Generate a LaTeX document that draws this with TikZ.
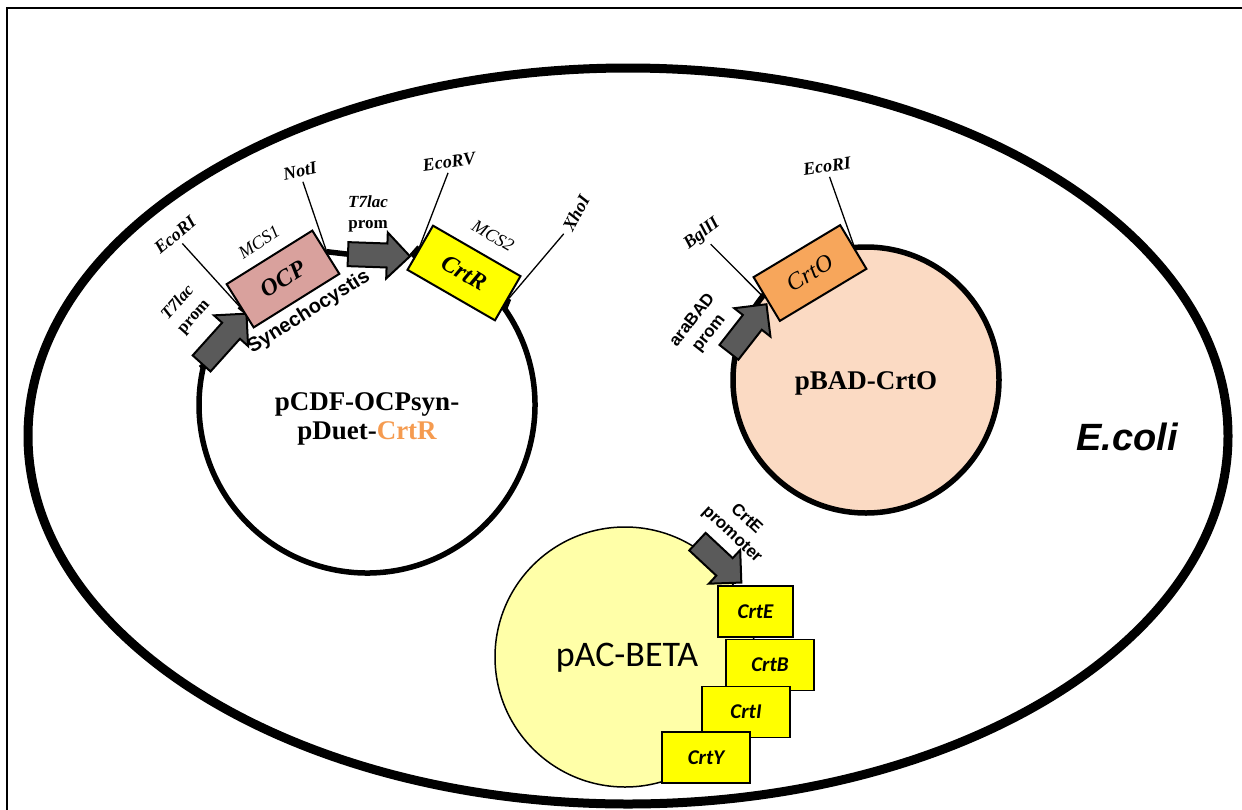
\documentclass[tikz,border=0pt]{standalone}
\usepackage{fontspec}
\setmainfont{Liberation Serif}
\newfontfamily\arialfont{Liberation Sans}
\newfontfamily\calibrifont{Carlito}
\usetikzlibrary{shapes.arrows,backgrounds}
\definecolor{ocppink}{HTML}{D9A19D}
\definecolor{geneyellow}{HTML}{FFFF00}
\definecolor{crtoorange}{HTML}{F7A65B}
\definecolor{badpeach}{HTML}{FBDAC3}
\definecolor{acyellow}{HTML}{FFFFA8}
\definecolor{crtrtext}{HTML}{F59B50}
\definecolor{promgray}{HTML}{5A5A5A}
\tikzset{
  cellwall/.style={line width=9pt},
  plasmid/.style={line width=5.5pt},
  site/.style={line width=1.3pt, shorten <=5pt},
  sitelbl/.style={inner sep=0pt, font=\fontsize{18}{20}\selectfont\bfseries\itshape},
  mcslbl/.style={inner sep=0pt, font=\fontsize{18}{20}\selectfont\itshape},
  prom/.style={single arrow, draw=black, line width=2pt, fill=promgray, inner xsep=0pt, inner ysep=11pt, single arrow head extend=11pt},
  promlbl/.style={align=center, inner sep=0pt, font=\fontsize{17}{21}\selectfont\bfseries},
  sanslbl/.style={align=center, inner sep=0pt, font=\arialfont\fontsize{17}{21}\selectfont\bfseries},
  insert/.style={draw=black, line width=2pt, minimum width=101pt, minimum height=51pt, inner sep=0pt},
  genebox/.style={draw=black, line width=1.5pt, fill=geneyellow, minimum height=51pt, inner sep=0pt, font=\calibrifont\fontsize{21}{21}\selectfont\bfseries\itshape},
  plname/.style={align=center, inner sep=0pt, font=\fontsize{27}{29}\selectfont\bfseries},
}
\begin{document}
\begin{tikzpicture}[x=1pt, y=-1pt]
  \useasboundingbox (0,0) rectangle (1242,809);
  \draw[line width=2pt] (7,815) -- (7,8) -- (1250,8);
  \draw[cellwall] (628,436) ellipse [x radius=600, y radius=368];
  \node[inner sep=0pt, font=\arialfont\fontsize{38}{38}\selectfont\bfseries\itshape] (ecoli) at (1127,437) {E.coli};

  \coordinate (pcdf) at (367,405);
  \node[prom, rotate=48, minimum height=67pt] (t7a) at (220,343) {};
  \node[prom, rotate=-2, minimum height=62pt] (t7b) at (373,255) {};
  \node[insert, fill=ocppink, rotate=32, font=\fontsize{24}{24}\selectfont\bfseries\itshape] (ocp) at (283,279) {OCP};
  \node[insert, fill=geneyellow, rotate=-30, font=\fontsize{24}{24}\selectfont\bfseries\itshape] (crtr) at (464,273) {CrtR};
  \node[plname] (pcdflbl) at (367,419) {pCDF-OCPsyn-\\pDuet-\textcolor{crtrtext}{CrtR}};
  \node[promlbl, rotate=48] (t7albl) at (186,310) {\textit{T7lac}\\prom};
  \node[promlbl] (t7blbl) at (368,214) {\textit{T7lac}\\prom};
  \node[inner sep=0pt, rotate=32, font=\arialfont\fontsize{20}{20}\selectfont\bfseries] (syn) at (309,312) {Synechocystis};
  \node[mcslbl, rotate=33] (mcs1) at (259,242) {MCS1};
  \node[mcslbl, rotate=-30] (mcs2) at (493,236) {MCS2};

  \draw[plasmid, fill=badpeach] (866,380) circle [radius=133];
  \node[prom, rotate=52, minimum height=61pt] (ara) at (744,333) {};
  \node[insert, fill=crtoorange, rotate=31, font=\fontsize{24}{24}\selectfont\itshape] (crto) at (810,273) {CrtO};
  \node[plname] (pbadlbl) at (866,383) {pBAD-CrtO};
  \node[sanslbl, rotate=52] (aralbl) at (701,327) {araBAD\\prom};

  \draw[line width=1.5pt, fill=acyellow] (625,657) circle [radius=130];
  \node[prom, rotate=-43, minimum height=60pt] (crtep) at (715,558) {};
  \node[sanslbl, rotate=-43] (crteplbl) at (739,527) {CrtE\\promoter};
  \node[inner sep=0pt, font=\calibrifont\fontsize{36}{36}\selectfont] (paclbl) at (627,658) {pAC-BETA};
  \foreach \nm/\x/\y/\w/\tx in {crte/755.5/611.5/75/CrtE, crtb/770/665/88/CrtB, crti/746/712/88/CrtI, crty/706/757.5/88/CrtY}
    \node[genebox, minimum width=\w pt] (\nm) at (\x,\y) {\tx};

  \foreach \nm/\x/\y/\r/\tx in {ecoria/175/235/40/EcoRI, noti/300/171/12/NotI, ecorv/449/162/8/EcoRV, xhoi/576/213/62/XhoI, bglii/702/234/38/BglII, ecorib/827/166/8/EcoRI}
    \node[sitelbl, rotate=\r] (\nm) at (\x,\y) {\tx};

  \begin{scope}[on background layer]
    \draw[plasmid] (crtr.east) -- ([shift={(-35:168)}]pcdf) arc[start angle=-35, end angle=193, radius=168] -- (t7a.tail);
    \draw[plasmid] (t7a.tip) -- (ocp.west);
    \draw[plasmid] (ocp.east) -- (t7b.tail);
    \draw[plasmid] (t7b.tip) -- (crtr.west);
    \draw[site] (ecoria.south) -- (ocp.west);
    \draw[site] (noti.south) -- (ocp.east);
    \draw[site] (ecorv.south) -- (crtr.west);
    \draw[site] (xhoi.west) -- (crtr.east);
    \draw[site] (bglii.south) -- (crto.west);
    \draw[site] (ecorib.south) -- (crto.east);
  \end{scope}
\end{tikzpicture}
\end{document}
